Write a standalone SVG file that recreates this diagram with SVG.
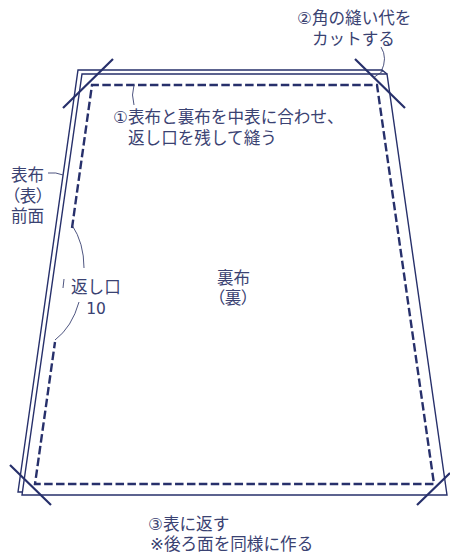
<svg xmlns="http://www.w3.org/2000/svg" width="450" height="554" viewBox="0 0 450 554">
<style>
text{font-family:"DejaVu Sans","Noto Sans CJK JP",sans-serif;font-size:16.6px;fill:#3a4272}
.m{text-anchor:middle}
.p{font-feature-settings:"palt"}
.n{font-size:15.5px}
.l{fill:none;stroke:#27306b;stroke-width:1.4}
.c{fill:none;stroke:#27306b;stroke-width:2.2}
.d{fill:none;stroke:#27306b;stroke-width:2.4;stroke-dasharray:8.5 3.4}
.t{fill:none;stroke:#3a4272;stroke-width:.9}
</style>
<g id="fabric-front"><path class="l" d="M22 492H18L78 70H382L387 74"/></g>
<g id="fabric-lining"><path class="l" d="M82 74H387L447 495H22Z"/></g>
<g id="stitching"><path class="d" d="M72 228L92 85H377L434 484H35L55 342"/></g>
<g id="connectors">
<path class="c" d="M63 108L113 59M355 59L405 108M10 465L51 505M417 505L450 473"/>
<path class="t" d="M134 85Q131 95 134 105"/>
<path class="t" d="M381 47Q388 58 381 72M373 78L383 71"/>
<path class="t" d="M48 173Q56 172 63 175"/>
<path class="t" d="M72 225Q84 243 84 268"/>
<path class="t" d="M64 279L63 288"/>
<path class="t" d="M79 302Q72 327 55 340"/>
</g>
<g id="labels">
<text x="113" y="123">①表布と裏布を中表に合わせ、</text>
<text x="128" y="144">返し口を残して縫う</text>
<text x="297" y="24">②角の縫い代を</text>
<text x="312" y="45">カットする</text>
<text x="11" y="181">表布</text>
<text class="m p" x="28" y="202">（表）</text>
<text x="11" y="222">前面</text>
<text x="71" y="293">返し口</text>
<text class="n m" x="96" y="314">10</text>
<text x="217" y="284">裏布</text>
<text class="m p" x="233" y="304">（裏）</text>
<text x="148" y="530">③表に返す</text>
<text x="150" y="550">※後ろ面を同様に作る</text>
</g>
</svg>
